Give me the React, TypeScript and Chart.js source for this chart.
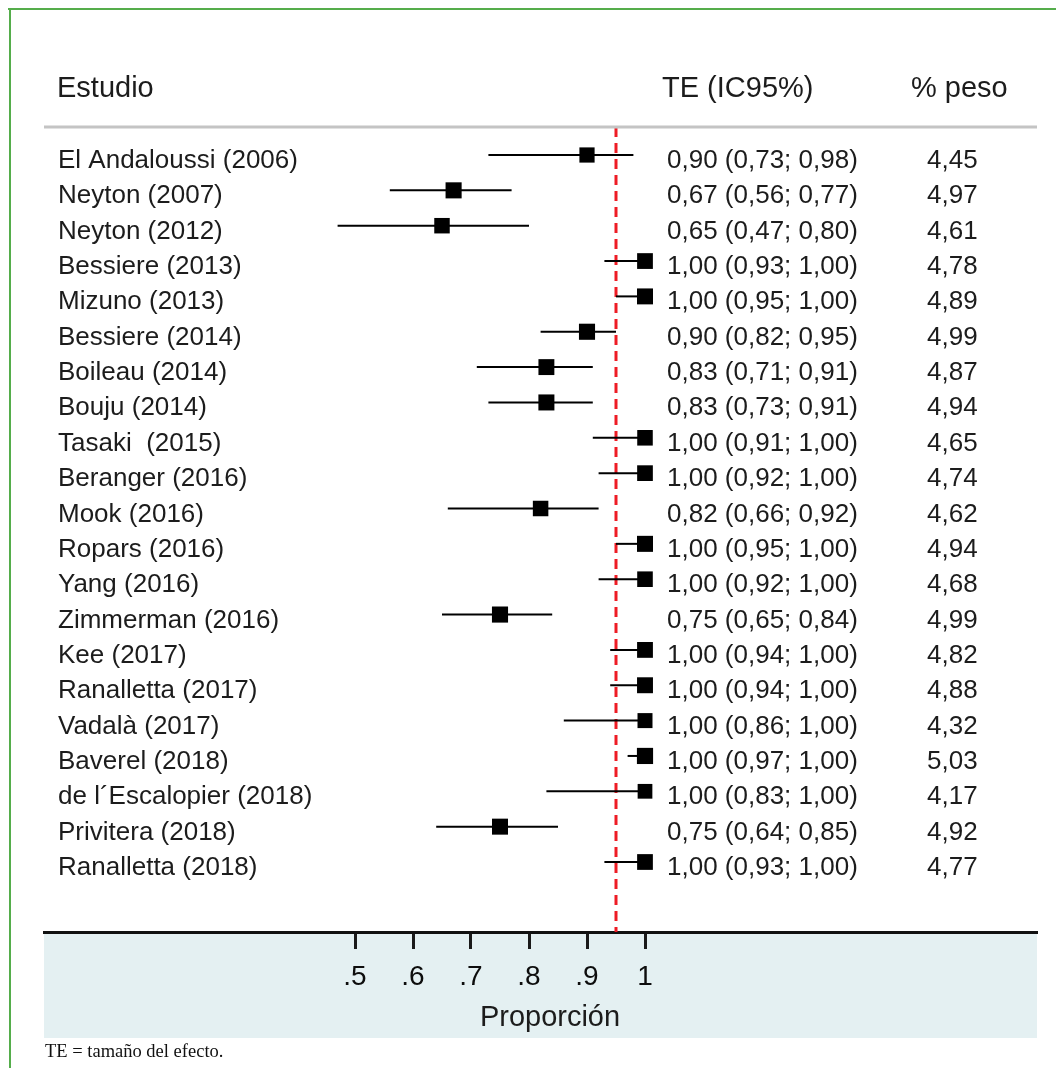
import React, { useEffect, useRef } from "react";
import { Chart, registerables } from "chart.js";

Chart.register(...registerables);

// ---------------- DATA ----------------
const studies = [
  "El Andaloussi (2006)",
  "Neyton (2007)",
  "Neyton (2012)",
  "Bessiere (2013)",
  "Mizuno (2013)",
  "Bessiere (2014)",
  "Boileau (2014)",
  "Bouju (2014)",
  "Tasaki  (2015)",
  "Beranger (2016)",
  "Mook (2016)",
  "Ropars (2016)",
  "Yang (2016)",
  "Zimmerman (2016)",
  "Kee (2017)",
  "Ranalletta (2017)",
  "Vadalà (2017)",
  "Baverel (2018)",
  "de l´Escalopier (2018)",
  "Privitera (2018)",
  "Ranalletta (2018)",
];
const estimates = [0.9, 0.67, 0.65, 1.0, 1.0, 0.9, 0.83, 0.83, 1.0, 1.0, 0.82, 1.0, 1.0, 0.75, 1.0, 1.0, 1.0, 1.0, 1.0, 0.75, 1.0];
const lowerCI = [0.73, 0.56, 0.47, 0.93, 0.95, 0.82, 0.71, 0.73, 0.91, 0.92, 0.66, 0.95, 0.92, 0.65, 0.94, 0.94, 0.86, 0.97, 0.83, 0.64, 0.93];
const upperCI = [0.98, 0.77, 0.8, 1.0, 1.0, 0.95, 0.91, 0.91, 1.0, 1.0, 0.92, 1.0, 1.0, 0.84, 1.0, 1.0, 1.0, 1.0, 1.0, 0.85, 1.0];
const weights = [4.45, 4.97, 4.61, 4.78, 4.89, 4.99, 4.87, 4.94, 4.65, 4.74, 4.62, 4.94, 4.68, 4.99, 4.82, 4.88, 4.32, 5.03, 4.17, 4.92, 4.77];
const pooledEstimate = 0.95;
const xTickValues = [0.5, 0.6, 0.7, 0.8, 0.9, 1];
const xTickLabels = [".5", ".6", ".7", ".8", ".9", "1"];
const headerLabels = ["Estudio", "TE (IC95%)", "% peso"];
const axisTitle = "Proporción";
const footnote = "TE = tamaño del efecto.";

// ---------------- LAYOUT ----------------
const W = 1056;
const H = 1068;
const AREA_LEFT = 44;
const AREA_RIGHT = 1037;
const AREA_TOP = 127;
const AREA_BOTTOM = 932;
const ROW0 = 155;
const ROW_STEP = 35.35;
const PX_AT_HALF = 355;
const PX_PER_UNIT = 580;

const X_MIN = 0.5 - (PX_AT_HALF - AREA_LEFT) / PX_PER_UNIT;
const X_MAX = 0.5 + (AREA_RIGHT - PX_AT_HALF) / PX_PER_UNIT;
const Y_MIN = (AREA_TOP - ROW0) / ROW_STEP;
const Y_MAX = (AREA_BOTTOM - ROW0) / ROW_STEP;

const TEXT = "#1c1c1c";
const SANS = "'Liberation Sans', Arial, Helvetica, sans-serif";

const fmt = (v: number) => v.toFixed(2).replace(".", ",");

const decorPlugin = {
  id: "decor",
  beforeDraw(chart: any) {
    const ctx = chart.ctx as CanvasRenderingContext2D;
    const { left, right, bottom } = chart.chartArea;
    ctx.save();
    ctx.fillStyle = "#ffffff";
    ctx.fillRect(0, 0, W, H);
    ctx.fillStyle = "#e4f0f2";
    ctx.fillRect(left, bottom, right - left, 1038 - bottom);
    ctx.restore();
  },
  afterDraw(chart: any) {
    const ctx = chart.ctx as CanvasRenderingContext2D;
    const { left, right, top } = chart.chartArea;
    const yScale = chart.scales.y;
    ctx.save();
    // green frame
    ctx.fillStyle = "#55ad4b";
    ctx.fillRect(8, 8, W - 8, 2);
    ctx.fillRect(9, 8, 2, H - 8);
    // header separator
    ctx.strokeStyle = "#c4c4c4";
    ctx.lineWidth = 3;
    ctx.beginPath();
    ctx.moveTo(left, top);
    ctx.lineTo(right, top);
    ctx.stroke();
    // headers
    ctx.fillStyle = TEXT;
    ctx.textBaseline = "alphabetic";
    ctx.textAlign = "left";
    ctx.font = `29px ${SANS}`;
    ctx.fillText(headerLabels[0], 57, 97);
    ctx.fillText(headerLabels[1], 662, 97);
    ctx.fillText(headerLabels[2], 911, 97);
    // rows
    ctx.font = `26px ${SANS}`;
    studies.forEach((s, i) => {
      const y = yScale.getPixelForValue(i) + 13;
      ctx.fillText(s, 58, y);
      ctx.fillText(`${fmt(estimates[i])} (${fmt(lowerCI[i])}; ${fmt(upperCI[i])})`, 667, y);
      ctx.fillText(fmt(weights[i]), 927, y);
    });
    // axis title
    ctx.textAlign = "center";
    ctx.font = `29px ${SANS}`;
    ctx.fillText(axisTitle, 550, 1026);
    // footnote
    ctx.textAlign = "left";
    ctx.fillStyle = "#111";
    ctx.font = `18.5px 'Liberation Serif', 'Times New Roman', serif`;
    ctx.fillText(footnote, 45, 1057);
    ctx.restore();
  },
};

export default function App() {
  const canvasRef = useRef<HTMLCanvasElement | null>(null);

  useEffect(() => {
    const canvas = canvasRef.current;
    if (!canvas) return;

    const ciDatasets = studies.map((s, i) => ({
      type: "line" as const,
      label: s,
      data: [
        { x: lowerCI[i], y: i },
        { x: upperCI[i], y: i },
      ],
      borderColor: "#000",
      borderWidth: 2,
      pointRadius: 0,
      fill: false,
      order: 2,
    }));

    const boxRadius = weights.map((w) => 5.1 * Math.sqrt(w));

    const chart = new Chart(canvas, {
      type: "scatter",
      data: {
        datasets: [
          {
            type: "line",
            label: "pooled",
            data: [
              { x: pooledEstimate, y: Y_MIN },
              { x: pooledEstimate, y: Y_MAX },
            ],
            borderColor: "#ee1c25",
            borderWidth: 3,
            borderDash: [10, 6],
            pointRadius: 0,
            fill: false,
            order: 3,
          } as any,
          ...ciDatasets,
          {
            type: "scatter",
            label: "TE",
            data: estimates.map((e, i) => ({ x: e, y: i })),
            pointStyle: "rect",
            pointRadius: boxRadius,
            pointHoverRadius: boxRadius,
            backgroundColor: "#000",
            borderColor: "#000",
            borderWidth: 0,
            order: 1,
          } as any,
        ],
      },
      options: {
        responsive: false,
        animation: false,
        events: [],
        layout: { padding: { left: AREA_LEFT, right: W - AREA_RIGHT, top: AREA_TOP, bottom: 0 } },
        plugins: { legend: { display: false }, tooltip: { enabled: false } },
        scales: {
          x: {
            type: "linear",
            position: "bottom",
            min: X_MIN,
            max: X_MAX,
            afterBuildTicks: (scale: any) => {
              scale.ticks = xTickValues.map((v) => ({ value: v }));
            },
            afterFit: (scale: any) => {
              scale.height = H - AREA_BOTTOM;
            },
            ticks: {
              autoSkip: false,
              maxRotation: 0,
              padding: 11,
              color: "#0d0d0d",
              font: { family: SANS, size: 28 },
              callback: (v: any) => {
                const idx = xTickValues.findIndex((t) => Math.abs(t - Number(v)) < 1e-9);
                return idx >= 0 ? xTickLabels[idx] : "";
              },
            },
            grid: {
              display: true,
              drawOnChartArea: false,
              drawTicks: true,
              tickLength: 17,
              tickWidth: 3,
              tickColor: "#1a1a1a",
            },
            border: { display: true, color: "#111", width: 3 },
          },
          y: {
            type: "linear",
            display: false,
            reverse: true,
            min: Y_MIN,
            max: Y_MAX,
          },
        },
      },
      plugins: [decorPlugin],
    });

    return () => chart.destroy();
  }, []);

  return (
    <div style={{ position: "absolute", left: 0, top: 0, width: W, height: H }}>
      <canvas ref={canvasRef} width={W} height={H} style={{ width: W, height: H, display: "block" }} />
    </div>
  );
}
